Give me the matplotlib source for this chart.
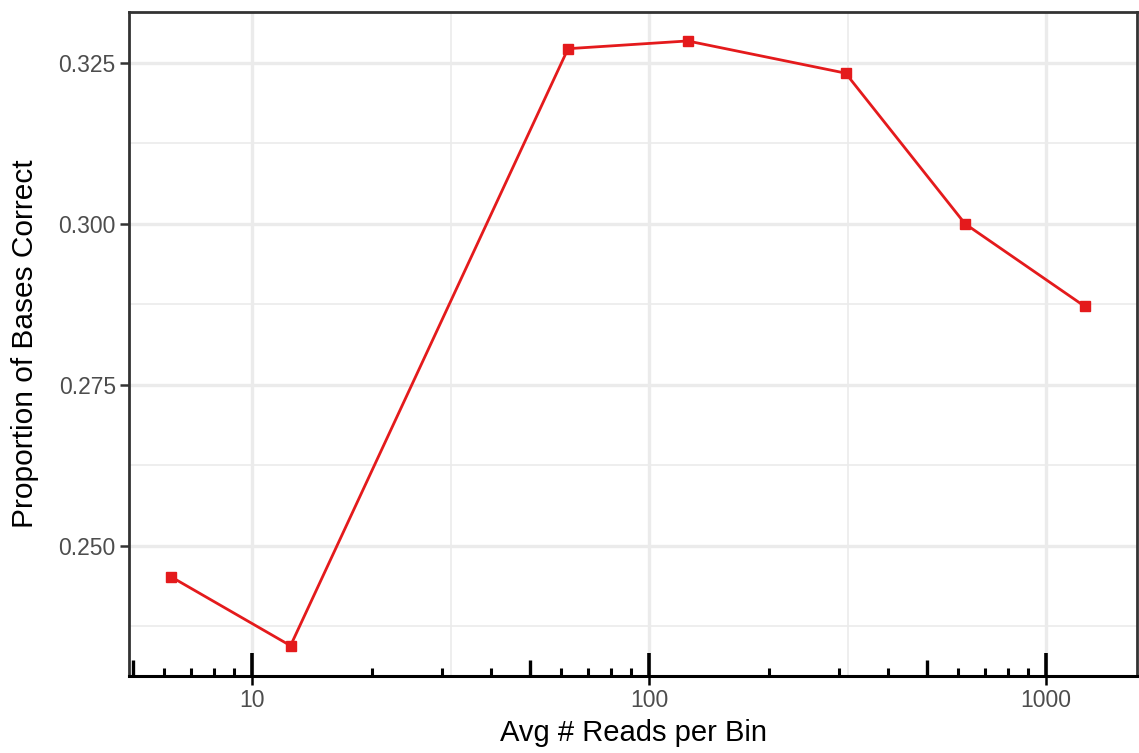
import numpy as np
import matplotlib
matplotlib.use("Agg")
import matplotlib.pyplot as plt
from matplotlib.ticker import FixedLocator, NullFormatter
import matplotlib.transforms as mtransforms

plt.rcParams['font.family'] = ['Liberation Sans', 'DejaVu Sans']

# data
reads_per_bin = [6.25, 12.5, 62.5, 125, 312.5, 625, 1250]
prop_correct = [0.2452, 0.2345, 0.3272, 0.3284, 0.3234, 0.3000, 0.2872]

x_major = [10, 100, 1000]
x_minor = [10 ** 1.5, 10 ** 2.5]
y_major = [0.250, 0.275, 0.300, 0.325]
y_minor = [0.2375, 0.2625, 0.2875, 0.3125]

red = '#E41A1C'

fig = plt.figure(figsize=(11.39, 7.53), dpi=100)
ax = fig.add_axes([0.1133, 0.1023, 0.885, 0.8818])

ax.set_xscale('log')
ax.set_xlim(4.9, 1694)
ax.set_ylim(0.2298, 0.3329)

# grid like theme_bw
ax.xaxis.set_major_locator(FixedLocator(x_major))
ax.xaxis.set_minor_locator(FixedLocator(x_minor))
ax.xaxis.set_minor_formatter(NullFormatter())
ax.yaxis.set_major_locator(FixedLocator(y_major))
ax.yaxis.set_minor_locator(FixedLocator(y_minor))
ax.set_xticklabels(['10', '100', '1000'])
ax.set_yticklabels(['0.250', '0.275', '0.300', '0.325'])
ax.grid(which='major', color='#EBEBEB', lw=2.4, zorder=0)
ax.grid(which='minor', color='#EBEBEB', lw=1.2, zorder=0)
ax.set_axisbelow(True)

ax.plot(reads_per_bin, prop_correct, color=red, lw=2.0, marker='s',
        markersize=7, zorder=3)

# log ticks along the bottom (annotation_logticks style)
trans = mtransforms.blended_transform_factory(ax.transData, ax.transAxes)
for dec in [1, 10, 100, 1000]:
    for k in range(1, 10):
        v = dec * k
        if v < 4.9 or v > 1694:
            continue
        if k == 1:
            h, w = 0.035, 2.6
        elif k == 5:
            h, w = 0.024, 2.4
        else:
            h, w = 0.012, 2.2
        ax.plot([v, v], [0, h], color='black', lw=w, transform=trans,
                solid_capstyle='butt', zorder=4, clip_on=False)

for side in ['left', 'top', 'right']:
    ax.spines[side].set_color('#333333')
    ax.spines[side].set_linewidth(2.0)
ax.spines['bottom'].set_color('black')
ax.spines['bottom'].set_linewidth(2.2)

ax.tick_params(axis='both', which='major', direction='out', length=6.5,
               width=1.8, color='#333333', labelsize=16.5, labelcolor='#4D4D4D',
               pad=3)
ax.tick_params(axis='x', which='major', color='black')
ax.tick_params(which='minor', length=0)

ax.set_xlabel('Avg # Reads per Bin', fontsize=21, labelpad=5)
ax.set_ylabel('Proportion of Bases Correct', fontsize=21.5, labelpad=14)

fig.savefig('out.png', dpi=100)
